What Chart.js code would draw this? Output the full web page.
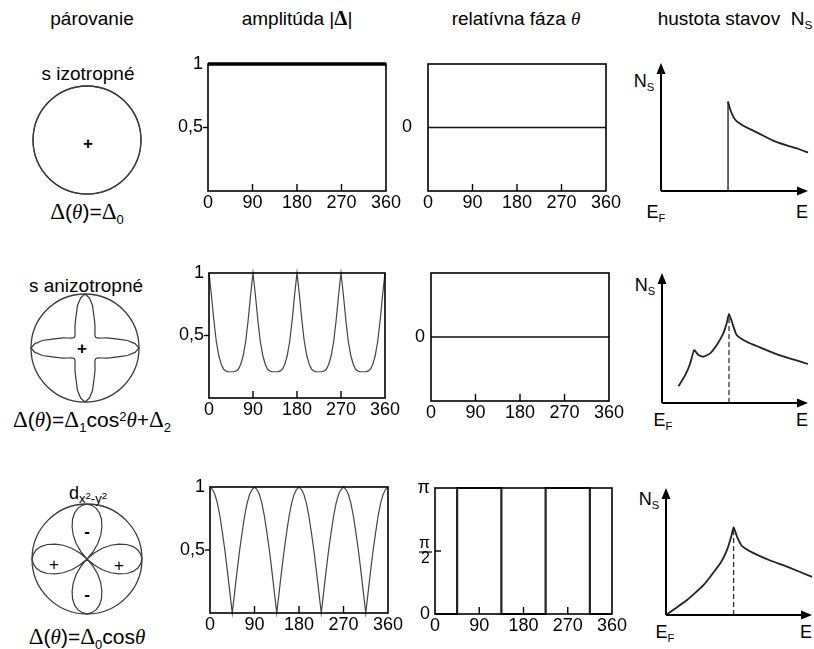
<!DOCTYPE html>
<html lang="sk">
<head>
<meta charset="utf-8">
<script src="https://cdn.jsdelivr.net/npm/chart.js@4.4.1/dist/chart.umd.min.js"></script>
<style>
body{margin:0;background:#fff;}
#fig{position:relative;width:814px;height:649px;overflow:hidden;font-family:"Liberation Sans",Arial,sans-serif;color:#000;}
#fig canvas{position:absolute;}
.t{position:absolute;white-space:nowrap;transform:translate(-50%,-50%);font-size:19px;line-height:1;}
.f{font-size:21px;}
.d{font-family:"Liberation Serif",serif;font-size:1.1em;}
.i{font-family:"Liberation Serif",serif;font-style:italic;}
.sb{font-size:0.62em;position:relative;top:0.35em;}
.sp{font-size:0.62em;position:relative;top:-0.5em;}
.sb2{font-size:0.72em;position:relative;top:0.3em;}
.sp2{font-size:0.75em;position:relative;top:-0.45em;}
.pm{font-size:17px;font-weight:bold;}
</style>
</head>
<body>
<div id="fig">
  <div class="t" style="left:92px;top:18px">párovanie</div>
  <div class="t" style="left:297px;top:18px">amplitúda |<span class="d" style="font-weight:bold">Δ</span>|</div>
  <div class="t" style="left:516px;top:18px">relatívna fáza <span class="i">θ</span></div>
  <div class="t" style="left:735px;top:18px">hustota stavov &nbsp;N<span class="sb">S</span></div>

  <div class="t" style="left:88px;top:73px">s izotropné</div>
  <div class="t" style="left:86px;top:285px">s anizotropné</div>
  <div class="t" style="left:88px;top:493px;font-size:18px">d<span class="sb2">x<span class="sp2">2</span>-y<span class="sp2">2</span></span></div>

  <div class="t f" style="left:87px;top:212px"><span class="d">Δ</span>(<span class="i">θ</span>)=<span class="d">Δ</span><span class="sb">0</span></div>
  <div class="t f" style="left:92px;top:420px"><span class="d">Δ</span>(<span class="i">θ</span>)=<span class="d">Δ</span><span class="sb">1</span>cos<span class="sp">2</span><span class="i">θ</span>+<span class="d">Δ</span><span class="sb">2</span></div>
  <div class="t f" style="left:87px;top:637px"><span class="d">Δ</span>(<span class="i">θ</span>)=<span class="d">Δ</span><span class="sb">0</span>cos<span class="i">θ</span></div>

  <div class="t pm" style="left:88px;top:143px">+</div>
  <div class="t pm" style="left:82px;top:348px">+</div>
  <div class="t pm" style="left:54px;top:564px;font-weight:normal">+</div>
  <div class="t pm" style="left:119px;top:565px;font-weight:normal">+</div>
  <div class="t pm" style="left:87px;top:531px">-</div>
  <div class="t pm" style="left:87px;top:594px">-</div>

  <div class="t" style="left:644px;top:81px;font-size:18px">N<span class="sb">S</span></div>
  <div class="t" style="left:656px;top:212px;font-size:18px">E<span class="sb">F</span></div>
  <div class="t" style="left:802px;top:212px;font-size:18px">E</div>
  <div class="t" style="left:645px;top:285px;font-size:18px">N<span class="sb">S</span></div>
  <div class="t" style="left:663px;top:420px;font-size:18px">E<span class="sb">F</span></div>
  <div class="t" style="left:802px;top:420px;font-size:18px">E</div>
  <div class="t" style="left:649px;top:499px;font-size:18px">N<span class="sb">S</span></div>
  <div class="t" style="left:665px;top:632px;font-size:18px">E<span class="sb">F</span></div>
  <div class="t" style="left:806px;top:632px;font-size:18px">E</div>
</div>
<script>
// angle (degrees), every 5 deg
var angles = [0,5,10,15,20,25,30,35,40,45,50,55,60,65,70,75,80,85,
  90,95,100,105,110,115,120,125,130,135,140,145,150,155,160,165,170,175,
  180,185,190,195,200,205,210,215,220,225,230,235,240,245,250,255,260,265,
  270,275,280,285,290,295,300,305,310,315,320,325,330,335,340,345,350,355,360];
var xTickVals = [0,90,180,270,360];

// amplitude |Delta|
var ampIso = [[0,1],[360,1]];
var ampAniso = [1.0,0.82,0.62,0.45,0.34,0.27,0.23,0.215,0.21,0.21,0.21,0.215,0.23,0.27,0.34,0.45,0.62,0.82,
  1.0,0.82,0.62,0.45,0.34,0.27,0.23,0.215,0.21,0.21,0.21,0.215,0.23,0.27,0.34,0.45,0.62,0.82,
  1.0,0.82,0.62,0.45,0.34,0.27,0.23,0.215,0.21,0.21,0.21,0.215,0.23,0.27,0.34,0.45,0.62,0.82,
  1.0,0.82,0.62,0.45,0.34,0.27,0.23,0.215,0.21,0.21,0.21,0.215,0.23,0.27,0.34,0.45,0.62,0.82,1.0];
var ampD = [1,0.98,0.94,0.87,0.77,0.64,0.5,0.34,0.17,0,0.17,0.34,0.5,0.64,0.77,0.87,0.94,0.98,
  1,0.98,0.94,0.87,0.77,0.64,0.5,0.34,0.17,0,0.17,0.34,0.5,0.64,0.77,0.87,0.94,0.98,
  1,0.98,0.94,0.87,0.77,0.64,0.5,0.34,0.17,0,0.17,0.34,0.5,0.64,0.77,0.87,0.94,0.98,
  1,0.98,0.94,0.87,0.77,0.64,0.5,0.34,0.17,0,0.17,0.34,0.5,0.64,0.77,0.87,0.94,0.98,1];

// polar shapes (radius vs angle, 0..355)
var polarIso = [1,1,1,1,1,1,1,1,1,1,1,1,1,1,1,1,1,1,
  1,1,1,1,1,1,1,1,1,1,1,1,1,1,1,1,1,1,
  1,1,1,1,1,1,1,1,1,1,1,1,1,1,1,1,1,1,
  1,1,1,1,1,1,1,1,1,1,1,1,1,1,1,1,1,1];
var polarAniso = [1.0,0.93,0.8,0.63,0.52,0.44,0.37,0.32,0.29,0.28,0.29,0.32,0.37,0.44,0.52,0.63,0.8,0.93,
  1.0,0.93,0.8,0.63,0.52,0.44,0.37,0.32,0.29,0.28,0.29,0.32,0.37,0.44,0.52,0.63,0.8,0.93,
  1.0,0.93,0.8,0.63,0.52,0.44,0.37,0.32,0.29,0.28,0.29,0.32,0.37,0.44,0.52,0.63,0.8,0.93,
  1.0,0.93,0.8,0.63,0.52,0.44,0.37,0.32,0.29,0.28,0.29,0.32,0.37,0.44,0.52,0.63,0.8,0.93];
var polarD = ampD.slice(0, 72);

// relative phase
var phaseS = [[0,0],[360,0]];
var phaseDx = [0,45,135,225,315,360];
var phaseDy = [0,Math.PI,0,Math.PI,0,0];

// density of states (E from E_F, N_s), axis units 0..1
var dos1E = [0.456,0.47,0.49,0.51,0.56,0.63,0.70,0.77,0.86,0.93,1.0];
var dos1N = [0.70,0.64,0.585,0.55,0.51,0.47,0.43,0.39,0.355,0.33,0.30];
var dos1Gap = 0.456;
var dos2E = [0.113,0.159,0.193,0.220,0.25,0.284,0.33,0.375,0.42,0.443,0.459,0.482,0.511,0.58,0.67,0.784,0.898,1.0];
var dos2N = [0.129,0.214,0.304,0.407,0.369,0.356,0.382,0.446,0.536,0.614,0.686,0.614,0.523,0.471,0.428,0.376,0.335,0.30];
var dos3E = [0,0.144,0.258,0.372,0.418,0.447,0.463,0.486,0.52,0.60,0.714,0.829,1.0];
var dos3N = [0,0.118,0.237,0.408,0.513,0.618,0.692,0.618,0.545,0.487,0.429,0.381,0.30];

Chart.defaults.font.family = '"Liberation Sans", Arial, sans-serif';
Chart.defaults.font.size = 18;
Chart.defaults.color = '#000';
Chart.defaults.animation = false;
Chart.defaults.responsive = false;
Chart.defaults.plugins.legend.display = false;
Chart.defaults.plugins.tooltip.enabled = false;
Chart.defaults.elements.point.radius = 0;

function pts(xs, ys){ return xs.map(function(x, i){ return {x: x, y: ys[i]}; }); }
function pairs(p){ return p.map(function(q){ return {x: q[0], y: q[1]}; }); }

//frame, tick marks, arrows
var framePlugin = {
  id: 'frame',
  afterDraw: function(chart, args, o){
    var ctx = chart.ctx, a = chart.chartArea;
    var xs = chart.scales.x, ys = chart.scales.y;
    ctx.save();
    ctx.strokeStyle = '#000';
    ctx.fillStyle = '#000';
    function seg(x1, y1, x2, y2){ ctx.beginPath(); ctx.moveTo(x1, y1); ctx.lineTo(x2, y2); ctx.stroke(); }
    if (o.box) {
      ctx.lineWidth = 1.6;
      ctx.strokeRect(a.left, a.top, a.right - a.left, a.bottom - a.top);
      ctx.lineWidth = 1.4;
      (o.xin || []).forEach(function(v){ var px = xs.getPixelForValue(v); seg(px, a.bottom, px, a.bottom - 7); });
      (o.yout || []).forEach(function(v){ var py = ys.getPixelForValue(v); seg(a.left - 5, py, a.left, py); });
      (o.yin || []).forEach(function(v){ var py = ys.getPixelForValue(v); seg(a.left, py, a.left + 6, py); });
      if (o.frac) {
        var py = ys.getPixelForValue(o.frac);
        ctx.lineWidth = 1.2;
        seg(a.left - 16, py + 1, a.left - 3, py + 1);
      }
    }
    if (o.arrows) {
      ctx.lineWidth = 2;
      seg(a.left, a.bottom, a.left, a.top + 6);
      seg(a.left, a.bottom, a.right - 6, a.bottom);
      ctx.beginPath();
      ctx.moveTo(a.left, a.top); ctx.lineTo(a.left - 4.5, a.top + 11); ctx.lineTo(a.left + 4.5, a.top + 11); ctx.closePath(); ctx.fill();
      ctx.beginPath();
      ctx.moveTo(a.right, a.bottom); ctx.lineTo(a.right - 11, a.bottom - 4.5); ctx.lineTo(a.right - 11, a.bottom + 4.5); ctx.closePath(); ctx.fill();
    }
    ctx.restore();
  }
};

function makeCanvas(l, t, w, h){
  var c = document.createElement('canvas');
  c.width = Math.round(w); c.height = Math.round(h);
  c.style.left = Math.round(l) + 'px'; c.style.top = Math.round(t) + 'px';
  document.getElementById('fig').appendChild(c);
  return c;
}

function line(data, w, color, extra){
  var d = {data: data, borderColor: color || '#444', borderWidth: w || 1.2, pointRadius: 0, fill: false, tension: 0, clip: false};
  return Object.assign(d, extra || {});
}

function boxChart(b, datasets, y, marks){
  var pl = 48, pr = 22, pt = 30, pb = 34;
  var c = makeCanvas(b.l - pl, b.t - pt, b.r - b.l + pl + pr, b.b - b.t + pt + pb);
  return new Chart(c, {
    type: 'line',
    data: {datasets: datasets},
    plugins: [framePlugin],
    options: {
      layout: {padding: {left: 0, right: pr, top: pt, bottom: 0}},
      plugins: {frame: Object.assign({box: true, xin: [90, 180, 270]}, marks)},
      scales: {
        x: {type: 'linear', min: 0, max: 360,
          afterBuildTicks: function(s){ s.ticks = xTickVals.map(function(v){ return {value: v}; }); },
          afterFit: function(s){ s.height = pb; },
          grid: {display: false, drawTicks: false}, border: {display: false},
          ticks: {padding: 1, autoSkip: false, maxRotation: 0}},
        y: {type: 'linear', min: y.min, max: y.max,
          afterBuildTicks: function(s){ s.ticks = y.ticks.map(function(v){ return {value: v}; }); },
          afterFit: function(s){ s.width = pl; },
          grid: {display: false, drawTicks: false}, border: {display: false},
          ticks: {padding: y.pad, callback: y.label, font: y.font}}
      }
    }
  });
}

function dosChart(b, datasets){
  var p = 6;
  var c = makeCanvas(b.l - p, b.t - p, b.r - b.l + 2 * p, b.b - b.t + 2 * p);
  return new Chart(c, {
    type: 'line',
    data: {datasets: datasets},
    plugins: [framePlugin],
    options: {
      layout: {padding: p},
      plugins: {frame: {arrows: true}},
      scales: {x: {type: 'linear', display: false, min: 0, max: 1}, y: {display: false, min: 0, max: 1}}
    }
  });
}

function polarChart(cx, cy, r, values){
  var p = 3;
  var c = makeCanvas(cx - r - p, cy - r - p, 2 * r + 2 * p, 2 * r + 2 * p);
  return new Chart(c, {
    type: 'radar',
    data: {labels: angles.slice(0, 72), datasets: [{data: values, borderColor: '#3a3a3a', borderWidth: 1.2,
      backgroundColor: 'rgba(0,0,0,0)', fill: false, pointRadius: 0, tension: 0}]},
    options: {
      layout: {padding: p},
      scales: {r: {min: 0, max: 1, ticks: {display: false, stepSize: 1},
        grid: {circular: true, color: '#3a3a3a', lineWidth: 1.3},
        angleLines: {display: false}, pointLabels: {display: false}}}
    }
  });
}

var ampY = {min: 0, max: 1, ticks: [0.5, 1], pad: 5, label: function(v){ return v === 1 ? '1' : '0,5'; }};
function zeroY(pad){ return {min: -1, max: 1, ticks: [0], pad: pad, label: function(){ return '0'; }}; }
var piY = {min: 0, max: Math.PI, ticks: [0, Math.PI / 2, Math.PI], pad: 5,
  label: function(v){ return v === 0 ? '0' : (v > 3 ? 'π' : ['π', '2']); },
  font: function(ctx){ return (ctx.tick && ctx.tick.value > 1 && ctx.tick.value < 2) ? {size: 16, lineHeight: 0.95} : {size: 18}; }};

// column 1: pairing symmetry
polarChart(87, 140, 54, polarIso);
polarChart(85, 348, 54, polarAniso);
polarChart(87, 559, 55, polarD);

// column 2: amplitude
boxChart({l: 208, t: 64, r: 386, b: 191}, [line(pairs(ampIso), 3.5, '#000')], ampY, {yout: [0.5]});
boxChart({l: 209, t: 273, r: 385, b: 398}, [line(pts(angles, ampAniso), 1.2, '#444')], ampY, {yout: [0.5]});
boxChart({l: 210, t: 487, r: 388, b: 613}, [line(pts(angles, ampD), 1.2, '#444')], ampY, {yout: [0.5]});

// column 3: relative phase
boxChart({l: 428, t: 64, r: 606, b: 191}, [line(pairs(phaseS), 1.4, '#111')], zeroY(16), {});
boxChart({l: 431, t: 273, r: 609, b: 401}, [line(pairs(phaseS), 1.4, '#111')], zeroY(6), {});
boxChart({l: 435, t: 488, r: 612, b: 614}, [line(pts(phaseDx, phaseDy), 2.2, '#222', {stepped: true})], piY, {yin: [Math.PI / 2], frac: Math.PI / 2});

// column 4: density of states
dosChart({l: 661, t: 63, r: 808, b: 191}, [
  line(pts([dos1Gap, dos1Gap], [0, dos1N[0]]), 1.4, '#222'),
  line(pts(dos1E, dos1N), 1.8, '#222', {tension: 0.2})
]);
dosChart({l: 662, t: 273, r: 808, b: 403}, [
  line(pts([dos2E[10], dos2E[10]], [0, dos2N[10]]), 1.3, '#333', {borderDash: [5, 3]}),
  line(pts(dos2E, dos2N), 1.8, '#222', {tension: 0.15})
]);
dosChart({l: 666, t: 488, r: 812, b: 615}, [
  line(pts([dos3E[6], dos3E[6]], [0, dos3N[6]]), 1.3, '#333', {borderDash: [5, 3]}),
  line(pts(dos3E, dos3N), 1.8, '#222', {tension: 0.15})
]);
</script>
</body>
</html>
